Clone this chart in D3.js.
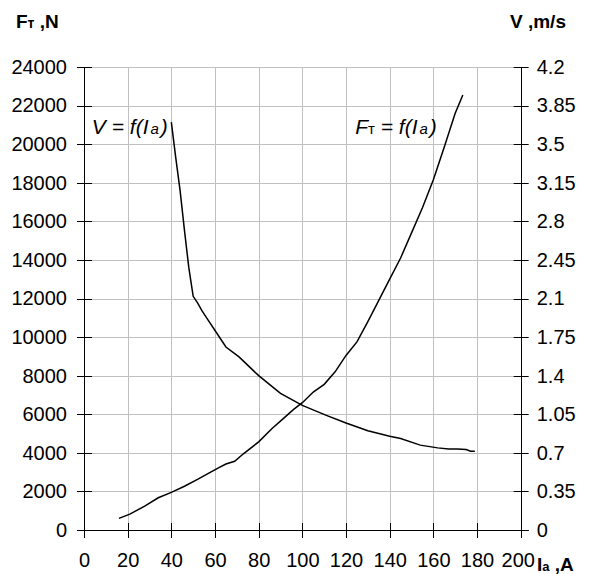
<!DOCTYPE html>
<html><head><meta charset="utf-8">
<script src="https://cdn.jsdelivr.net/npm/d3@7"></script>
<style>
body{margin:0;background:#fff;}
svg{display:block;font-family:Arial,"Liberation Sans",sans-serif;}
</style></head>
<body><svg id="c" width="591" height="574"></svg>
<script>
const xTicks = [0,20,40,60,80,100,120,140,160,180,200];
const fTicks = [0,2000,4000,6000,8000,10000,12000,14000,16000,18000,20000,22000,24000];
const vTickLabels = ["0","0.35","0.7","1.05","1.4","1.75","2.1","2.45","2.8","3.15","3.5","3.85","4.2"];

const iaF = [16,21,28,34,40,46,52,58,62,65,69,73,80,86,91,96,100,105,110,115,120,125,130,135,140,145,150,155,160,165,170,173.5];
const fValues = [600,820,1250,1670,1950,2270,2620,3000,3250,3420,3560,3950,4570,5250,5750,6250,6600,7150,7550,8200,9050,9750,10800,11900,13000,14100,15400,16700,18150,19850,21600,22550];

const iaV = [40,42,44,46,48,50,52,54,57,60,65,71,80,90,100,111,120,130,140,145,154,162,167,171,175,177,179];
const vValues = [3.70,3.38,3.08,2.72,2.38,2.12,2.06,1.99,1.90,1.81,1.66,1.57,1.40,1.24,1.13,1.04,0.97,0.90,0.85,0.83,0.77,0.745,0.735,0.735,0.73,0.715,0.715];

const svg = d3.select("#c");
const L = 84, R = 520.7, T = 67, B = 530;
const x = d3.scaleLinear().domain([0,200]).range([L,R]);
const yF = d3.scaleLinear().domain([0,24000]).range([B,T]);
const yV = d3.scaleLinear().domain([0,4.2]).range([B,T]);
const fs = 20;

// grid
const g = svg.append("g");
g.selectAll("line.h").data(fTicks.slice(1)).join("line")
  .attr("x1",L).attr("x2",R).attr("y1",d=>Math.round(yF(d))+0.5).attr("y2",d=>Math.round(yF(d))+0.5)
  .attr("stroke","#c0c0c0").attr("stroke-width",1);
g.selectAll("line.v").data(xTicks.slice(1,-1)).join("line")
  .attr("y1",T).attr("y2",B).attr("x1",d=>Math.round(x(d))+0.5).attr("x2",d=>Math.round(x(d))+0.5)
  .attr("stroke","#c0c0c0").attr("stroke-width",1);

// axes
const axL = d3.axisLeft(yF).tickValues(fTicks).tickSize(0).tickFormat(d3.format("d"));
const axR = d3.axisRight(yV).tickValues(d3.range(13).map(i=>i*0.35)).tickSize(0).tickFormat((d,i)=>vTickLabels[i]);
const axB = d3.axisBottom(x).tickValues(xTicks).tickSize(0).tickFormat(d3.format("d"));

function style(sel){
  sel.select(".domain").remove();
  sel.selectAll("text").attr("font-size",fs).attr("fill","#000").attr("font-family","Arial, 'Liberation Sans', sans-serif");
}
const gl = svg.append("g").attr("transform",`translate(${L},0)`).call(axL);
style(gl); gl.selectAll("text").attr("x",-17);
const gr = svg.append("g").attr("transform",`translate(${R},0)`).call(axR);
style(gr); gr.selectAll("text").attr("x",16);
const gb = svg.append("g").attr("transform",`translate(0,${B})`).call(axB);
style(gb); gb.selectAll("text").attr("y",23).attr("dy","0.71em");
gb.selectAll("text").filter(d=>d===200).attr("dx",-3);

// axis lines and cross ticks
const a = svg.append("g").attr("stroke","#000").attr("stroke-width",1);
a.append("line").attr("x1",L+0.5).attr("x2",L+0.5).attr("y1",T).attr("y2",B+8);
a.append("line").attr("x1",Math.round(R)+0.5).attr("x2",Math.round(R)+0.5).attr("y1",T).attr("y2",B+8);
a.append("line").attr("x1",L-7).attr("x2",R+8).attr("y1",B+0.5).attr("y2",B+0.5);
fTicks.forEach(d=>{
  const yy = Math.round(yF(d))+0.5;
  a.append("line").attr("x1",L-7).attr("x2",L+8).attr("y1",yy).attr("y2",yy);
  a.append("line").attr("x1",R-7).attr("x2",R+8).attr("y1",yy).attr("y2",yy);
});
xTicks.forEach(d=>{
  const xx = Math.round(x(d))+0.5;
  a.append("line").attr("x1",xx).attr("x2",xx).attr("y1",B-7).attr("y2",B+8);
});

// curves
const lineF = d3.line().x((d,i)=>x(iaF[i])).y(d=>yF(d));
const lineV = d3.line().x((d,i)=>x(iaV[i])).y(d=>yV(d));
svg.append("path").attr("d",lineF(fValues)).attr("fill","none").attr("stroke","#000").attr("stroke-width",1.5);
svg.append("path").attr("d",lineV(vValues)).attr("fill","none").attr("stroke","#000").attr("stroke-width",1.5);

// curve labels
const lfs = 21, sfs = 15;
const lab1 = svg.append("text").attr("x",x(3.6)).attr("y",yF(20550)).attr("font-size",lfs).attr("font-style","italic");
lab1.append("tspan").text("V = f(I");
lab1.append("tspan").attr("font-size",sfs).attr("dx",2).text("a");
lab1.append("tspan").attr("dx",2).text(")");
const lab2 = svg.append("text").attr("x",x(124.2)).attr("y",yF(20550)).attr("font-size",lfs).attr("font-style","italic");
lab2.append("tspan").text("F");
lab2.append("tspan").attr("font-size",sfs).attr("font-style","normal").text("т");
lab2.append("tspan").text(" = f(I");
lab2.append("tspan").attr("font-size",sfs).attr("dx",2).text("a");
lab2.append("tspan").attr("dx",2).text(")");

// axis titles
const t1 = svg.append("text").attr("x",16).attr("y",28).attr("font-size",19).attr("font-weight","bold");
t1.append("tspan").text("F");
t1.append("tspan").attr("font-size",14).text("т");
t1.append("tspan").text(" ,N");
svg.append("text").attr("x",510).attr("y",28).attr("font-size",19).attr("font-weight","bold").text("V ,m/s");
const t3 = svg.append("text").attr("x",537).attr("y",571).attr("font-size",19).attr("font-weight","bold");
t3.append("tspan").text("I");
t3.append("tspan").attr("font-size",13).text("a");
t3.append("tspan").text(" ,A");
</script></body></html>
